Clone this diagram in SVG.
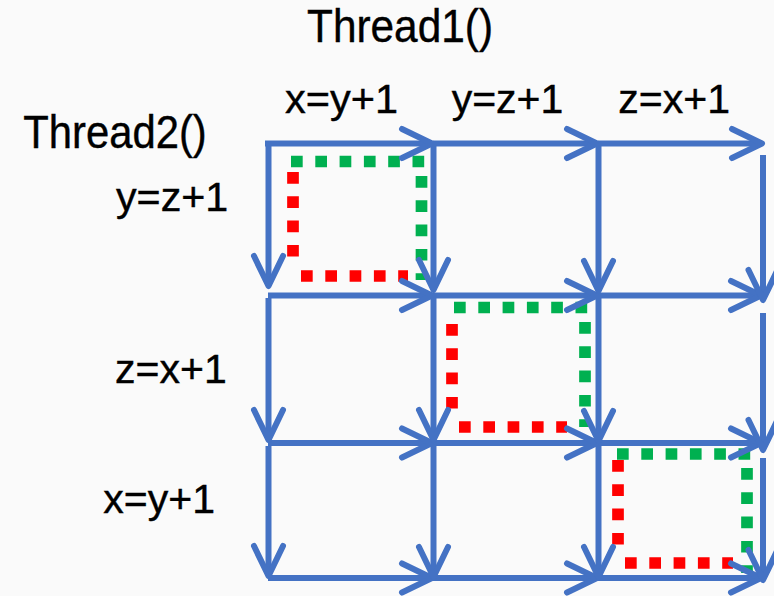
<svg xmlns="http://www.w3.org/2000/svg" width="774" height="596" viewBox="0 0 774 596">
  <style>
    .lbl { font-family: "Liberation Sans", Arial, sans-serif; fill: #000; stroke: #000; stroke-width: 0.4; }
    .th { font-size: 46px; }
    .ex { font-size: 40px; }
    .edge { stroke: #4472C4; stroke-width: 6; fill: none; marker-end: url(#chev); }
    .grn { stroke: #00B050; stroke-width: 11.7; fill: none; stroke-dasharray: 11.7 12.6; }
    .red { stroke: #FF0000; stroke-width: 11.7; fill: none; stroke-dasharray: 11.7 12.6; }
  </style>
  <defs>
    <marker id="chev" markerUnits="userSpaceOnUse" viewBox="-36 -20 40 40" markerWidth="40" markerHeight="40" refX="0" refY="0" orient="auto">
      <path d="M -30 -14.5 L 0 0 L -30 14.5" fill="none" stroke="#4472C4" stroke-width="6" stroke-linecap="round" stroke-linejoin="round"/>
    </marker>
  </defs>
  <rect width="774" height="596" fill="#fafafa"/>

  <g id="labels">
    <g id="thread1"><text class="lbl th" x="307" y="41.7" textLength="186" lengthAdjust="spacingAndGlyphs">Thread1()</text></g>
    <g id="t1-op1"><text class="lbl ex" x="285" y="113.3" textLength="113" lengthAdjust="spacingAndGlyphs">x=y+1</text></g>
    <g id="t1-op2"><text class="lbl ex" x="451.7" y="113.3" textLength="111.6" lengthAdjust="spacingAndGlyphs">y=z+1</text></g>
    <g id="t1-op3"><text class="lbl ex" x="618.3" y="113.3" textLength="111.7" lengthAdjust="spacingAndGlyphs">z=x+1</text></g>
    <g id="thread2"><text class="lbl th" x="23.3" y="147.7" textLength="183.4" lengthAdjust="spacingAndGlyphs">Thread2()</text></g>
    <g id="t2-op1"><text class="lbl ex" x="116" y="211" textLength="112.3" lengthAdjust="spacingAndGlyphs">y=z+1</text></g>
    <g id="t2-op2"><text class="lbl ex" x="115" y="382.7" textLength="111.7" lengthAdjust="spacingAndGlyphs">z=x+1</text></g>
    <g id="t2-op3"><text class="lbl ex" x="103.3" y="513.3" textLength="111.7" lengthAdjust="spacingAndGlyphs">x=y+1</text></g>
  </g>

  <g id="cycle1">
    <line class="grn" x1="291" y1="161.5" x2="424.7" y2="161.5"/>
    <line class="grn" x1="421.5" y1="176" x2="421.5" y2="280"/>
    <line class="red" x1="293" y1="172" x2="293" y2="258"/>
    <line class="red" x1="301" y1="276" x2="408" y2="276"/>
  </g>
  <g id="cycle2">
    <line class="grn" x1="454" y1="307.5" x2="588" y2="307.5"/>
    <line class="grn" x1="585" y1="322" x2="585" y2="427"/>
    <line class="red" x1="452" y1="324" x2="452" y2="409"/>
    <line class="red" x1="459" y1="427" x2="567" y2="427"/>
  </g>
  <g id="cycle3">
    <line class="grn" x1="617" y1="454" x2="750.7" y2="454"/>
    <line class="grn" x1="747" y1="468" x2="747" y2="573"/>
    <line class="red" x1="618" y1="460" x2="618" y2="546"/>
    <line class="red" x1="625" y1="563" x2="733" y2="563"/>
  </g>

  <g id="connectors">
    <line class="edge" x1="265" y1="143.5" x2="432" y2="143.5"/>
    <line class="edge" x1="433" y1="143.5" x2="597" y2="143.5"/>
    <line class="edge" x1="598" y1="143.5" x2="762" y2="143.5"/>
    <line class="edge" x1="268" y1="295.5" x2="432" y2="295.5"/>
    <line class="edge" x1="433" y1="295.5" x2="597" y2="295.5"/>
    <line class="edge" x1="598" y1="295.5" x2="761" y2="295.5"/>
    <line class="edge" x1="268" y1="443" x2="432" y2="443"/>
    <line class="edge" x1="433" y1="443" x2="597" y2="443"/>
    <line class="edge" x1="598" y1="443" x2="761" y2="443"/>
    <line class="edge" x1="268" y1="578" x2="432" y2="578"/>
    <line class="edge" x1="433" y1="578" x2="597" y2="578"/>
    <line class="edge" x1="598" y1="578" x2="761" y2="578"/>
    <line class="edge" x1="268.5" y1="141" x2="268.5" y2="286"/>
    <line class="edge" x1="268.5" y1="298" x2="268.5" y2="440"/>
    <line class="edge" x1="268.5" y1="446" x2="268.5" y2="576"/>
    <line class="edge" x1="433.5" y1="141" x2="433.5" y2="290"/>
    <line class="edge" x1="433.5" y1="298" x2="433.5" y2="440"/>
    <line class="edge" x1="433.5" y1="446" x2="433.5" y2="577"/>
    <line class="edge" x1="598.5" y1="141" x2="598.5" y2="291"/>
    <line class="edge" x1="598.5" y1="298" x2="598.5" y2="441"/>
    <line class="edge" x1="598.5" y1="446" x2="598.5" y2="577"/>
    <line class="edge" x1="763" y1="155" x2="763" y2="300"/>
    <line class="edge" x1="763" y1="313" x2="763" y2="450"/>
    <line class="edge" x1="763" y1="458" x2="763" y2="580"/>
  </g>
</svg>
